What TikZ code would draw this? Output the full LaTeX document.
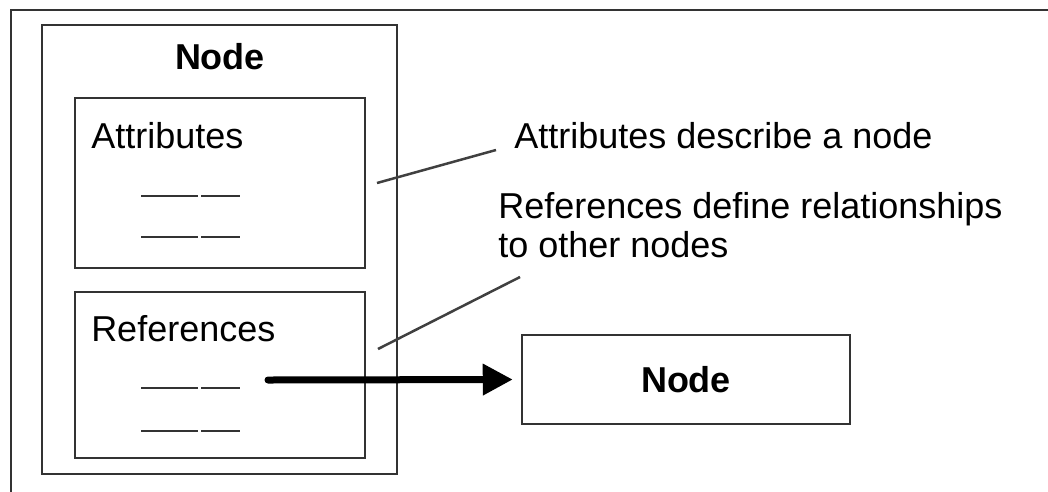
\documentclass[tikz,border=0pt]{standalone}
\usepackage{fontspec}
\setmainfont{Liberation Sans}
\usetikzlibrary{arrows.meta,positioning}

\begin{document}
\begin{tikzpicture}[x=1pt, y=-1pt, line width=2.5pt, draw=black!80, font=\fontsize{36}{39}\selectfont,
  box/.style = {draw=black!80, line width=2.5pt, rectangle, inner sep=0pt},
  label/.style = {inner sep=0pt, align=left},
  blank/.style = {draw=black!80, line width=2.5pt},
  callout/.style = {draw=black!75, line width=2.5pt}]
  \useasboundingbox (0,0) rectangle (1048,491);
  % Frame
  \draw[blank] (11,495) |- (1052,10);

  % Nodes
  \node[box, minimum width=355pt, minimum height=449pt] (node_out) at (219.5,249.5) {};
  \node[box, minimum width=290pt, minimum height=170pt] (attr) at (220,183) {};
  \node[box, minimum width=290pt, minimum height=166pt] (refs) at (220,375) {};
  \node[box, minimum width=328pt, minimum height=89pt] (node_other) at (686,379.5) {\bfseries Node};

  \node[label] (node_title) at (220,57) {\bfseries Node};
  \node[label, anchor=base west] (attr_title) at (90,148) {Attributes};
  \node[label, anchor=base west] (refs_title) at (90,341) {References};

  \node[label, anchor=base west] (attr_note) at (513,148) {Attributes describe a node};
  \node[label, anchor=base west] (refs_note) at (497,257) {References define relationships\\to other nodes};

  % Blanks
  \foreach \y in {196,237,388,431} {
    \draw[blank] (141,\y) -- (198,\y);
    \draw[blank] (201,\y) -- (240,\y);
  }

  % Paths
  \coordinate (attr_from) at (377,183);
  \coordinate (attr_to) at (496,150);
  \coordinate (refs_from) at (378,349);
  \coordinate (refs_to) at (520,277);
  \coordinate (ref_start) at (268,380);
  \draw[callout] (attr_from) -- (attr_to);
  \draw[callout] (refs_from) -- (refs_to);
  \draw[draw=black, fill=black, line width=7pt, line cap=round, -{Triangle[length=30pt,width=30pt]}, shorten >=8pt] (ref_start) -- (node_other.west);
\end{tikzpicture}
\end{document}
